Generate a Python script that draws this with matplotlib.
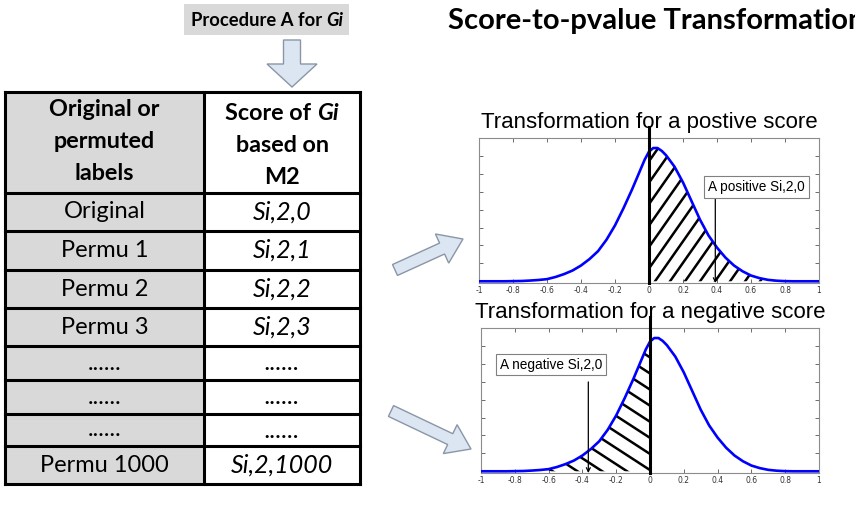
import numpy as np
import matplotlib
matplotlib.use("Agg")
import matplotlib.pyplot as plt
import matplotlib.patches as mpatches
import matplotlib.transforms as mtransforms
from matplotlib.collections import LineCollection

FW, FH = 855, 517
UI_FONT = ["Lato", "DejaVu Sans"]
PLOT_FONT = ["Liberation Sans", "DejaVu Sans"]

# table content
header_left = ["Original or", "permuted", "labels"]
header_right = [[("Score of ", "normal"), ("Gi", "italic")],
                [("based on", "normal")],
                [("M2", "normal")]]
row_labels = ["Original", "Permu 1", "Permu 2", "Permu 3",
              "......", "......", "......", "Permu 1000"]
row_scores = ["Si,2,0", "Si,2,1", "Si,2,2", "Si,2,3",
              "......", "......", "......", "Si,2,1000"]

# null distribution (height as fraction of the axes)
null_x = [-1.0, -0.95, -0.9, -0.85, -0.8, -0.75, -0.7, -0.65, -0.6, -0.55,
          -0.5, -0.45, -0.4, -0.35, -0.3, -0.25, -0.2, -0.15, -0.1, -0.05,
          -0.025, 0.0, 0.025, 0.05, 0.075, 0.1, 0.15, 0.2, 0.25, 0.3,
          0.35, 0.4, 0.45, 0.5, 0.55, 0.6, 0.65, 0.7, 0.75, 0.8,
          0.85, 0.9, 0.95, 1.0]
null_y = [0.0, 0.0, 0.0, 0.0, 0.001, 0.002, 0.005, 0.009, 0.015, 0.03,
          0.05, 0.075, 0.11, 0.155, 0.21, 0.29, 0.39, 0.51, 0.64, 0.78,
          0.85, 0.905, 0.93, 0.93, 0.91, 0.88, 0.80, 0.69, 0.56, 0.43,
          0.32, 0.235, 0.165, 0.11, 0.07, 0.04, 0.022, 0.01, 0.004, 0.001,
          0.0, 0.0, 0.0, 0.0]
xticks = [-1, -0.8, -0.6, -0.4, -0.2, 0, 0.2, 0.4, 0.6, 0.8, 1]
xtick_labels = ["-1", "-0.8", "-0.6", "-0.4", "-0.2", "0", "0.2", "0.4", "0.6", "0.8", "1"]

pos_score = 0.39
neg_score = -0.365

fig = plt.figure(figsize=(FW / 100, FH / 100), dpi=100)
bg = fig.add_axes([0, 0, 1, 1])
bg.set_xlim(0, FW)
bg.set_ylim(FH, 0)
bg.axis("off")


def rich_line(x, y, pieces, size, weight="normal"):
    # pieces of differently styled text, centred on x together
    texts = [bg.text(0, y, s, fontsize=size, fontweight=weight, fontstyle=st,
                     family=UI_FONT, ha="left", va="center") for s, st in pieces]
    r = fig.canvas.get_renderer()
    widths = [t.get_window_extent(r).width for t in texts]
    x0 = x - sum(widths) / 2
    for t, w in zip(texts, widths):
        t.set_x(x0)
        x0 += w


# top box + down arrow
bg.add_patch(mpatches.Rectangle((184, 4), 165, 31, fc="#d9d9d9", ec="none"))
rich_line(267, 20, [("Procedure A for ", "normal"), ("Gi", "italic")], 13.2, "bold")
bg.add_patch(mpatches.FancyArrow(292, 40, 0, 47, width=17, head_width=50, head_length=23,
                                 length_includes_head=True, fc="#dce6f2", ec="#8a96a6", lw=1))

# table
tl, tm, tr = 5, 204, 360
row_edges = [92, 193, 231, 270, 308, 346, 380, 414, 446, 484]
bg.add_patch(mpatches.Rectangle((tl, row_edges[0]), tm - tl, row_edges[-1] - row_edges[0],
                                fc="#d9d9d9", ec="none"))
for yy in row_edges:
    bg.plot([tl, tr], [yy, yy], color="k", lw=2.2, solid_capstyle="projecting")
for xx in (tl, tm, tr):
    bg.plot([xx, xx], [row_edges[0], row_edges[-1]], color="k", lw=2.2, solid_capstyle="projecting")

for i, line in enumerate(header_left):
    bg.text((tl + tm) / 2, 110 + 32 * i, line, fontsize=16.8, fontweight="bold",
            family=UI_FONT, ha="center", va="center")
for i, pieces in enumerate(header_right):
    rich_line((tm + tr) / 2, 113 + 32 * i, pieces, 16.8, "bold")

for i, (lab, sc) in enumerate(zip(row_labels, row_scores)):
    yc = (row_edges[i + 1] + row_edges[i + 2]) / 2
    bg.text((tl + tm) / 2, yc, lab, fontsize=17, family=UI_FONT, ha="center", va="center")
    bg.text((tm + tr) / 2, yc, sc, fontsize=18, family=UI_FONT, style="italic",
            ha="center", va="center")

# right title, runs off the edge
bg.text(448, 29, "Score-to-pvalue Transformation", fontsize=21, fontweight="bold",
        family=UI_FONT, ha="left", va="baseline")

# block arrows to the panels
for (x0, y0, x1, y1) in [(395, 270, 463, 239), (391, 411, 471, 449)]:
    bg.add_patch(mpatches.FancyArrow(x0, y0, x1 - x0, y1 - y0, width=12, head_width=32,
                                     head_length=23, length_includes_head=True,
                                     fc="#dce6f2", ec="#8a96a6", lw=1))


def hatch_lines(ax, rect, angle, gap):
    # parallel lines in pixel space, returned in axes fraction
    aw, ah = rect[2] * FW, rect[3] * FH
    d = np.array([np.cos(np.radians(angle)), np.sin(np.radians(angle))])
    n = np.array([-d[1], d[0]])
    corners = np.array([[0, 0], [aw, 0], [0, ah], [aw, ah]])
    proj = corners @ n
    segs = []
    L = aw + ah
    for c in np.arange(proj.min(), proj.max(), gap):
        p0 = c * n - L * d
        p1 = c * n + L * d
        segs.append([(p0[0] / aw, p0[1] / ah), (p1[0] / aw, p1[1] / ah)])
    return LineCollection(segs, colors="k", linewidths=1.8, transform=ax.transAxes, zorder=2)


def panel(rect, title, side, score, box_x, box_y, arrow_y0, angle, gap):
    ax = fig.add_axes(rect)
    xs = np.array(null_x)
    ys = np.array(null_y)
    ax.plot(xs, ys, color="#0000ff", lw=1.9, zorder=3)
    ax.set_xlim(-1, 1)
    ax.set_ylim(-0.012, 1)
    ax.set_xticks(xticks)
    ax.set_xticklabels(xtick_labels)
    ax.set_yticks(np.linspace(0, 1, 9))
    ax.set_yticklabels([])
    ax.tick_params(direction="in", top=True, right=True, length=3, width=0.6,
                   color="#555555", labelsize=5.5, labelcolor="#333333", pad=2)
    for sp in ax.spines.values():
        sp.set_color("#8c8c8c")
        sp.set_linewidth(0.8)

    if side == "right":
        m = xs >= 0
        verts = [(0, 0)] + list(zip(xs[m], ys[m])) + [(1, 0)]
    else:
        m = xs <= 0
        verts = [(-1, 0)] + list(zip(xs[m], ys[m])) + [(0, 0)]
    region = mpatches.Polygon(verts, closed=True, fc="none", ec="none", transform=ax.transData)
    ax.add_patch(region)
    lc = hatch_lines(ax, rect, angle, gap)
    ax.add_collection(lc)
    lc.set_clip_path(region)

    ax.axvline(0, 0, 1.076, color="k", lw=2.2, clip_on=False, zorder=4)
    ax.text(0.5, 1.105, title, transform=ax.transAxes, ha="center", va="center",
            fontsize=16, family=PLOT_FONT, zorder=1)

    blend = ("data", "axes fraction")
    ax.annotate("", xy=(score, 0.0), xycoords=blend, xytext=(score, arrow_y0), textcoords=blend,
                arrowprops=dict(arrowstyle="->", lw=0.9, color="k", shrinkA=0, shrinkB=0,
                                mutation_scale=7))
    label = "A positive Si,2,0" if side == "right" else "A negative Si,2,0"
    ax.text(box_x, box_y, label, transform=mtransforms.blended_transform_factory(ax.transData, ax.transAxes),
            ha="center", va="center", fontsize=9.8, family=PLOT_FONT, zorder=5,
            bbox=dict(boxstyle="square,pad=0.28", fc="white", ec="#808080", lw=0.8))
    return ax


top_rect = [479 / FW, (FH - 283) / FH, 340 / FW, 145 / FH]
bot_rect = [481 / FW, (FH - 473) / FH, 338 / FW, 145 / FH]
panel(top_rect, "Transformation for a postive score", "right", pos_score,
      0.632, 0.662, 0.593, 55, 12.3)
panel(bot_rect, "Transformation for a negative score", "left", neg_score,
      -0.586, 0.748, 0.628, -33, 13.5)

fig.savefig("out.png", dpi=100)
